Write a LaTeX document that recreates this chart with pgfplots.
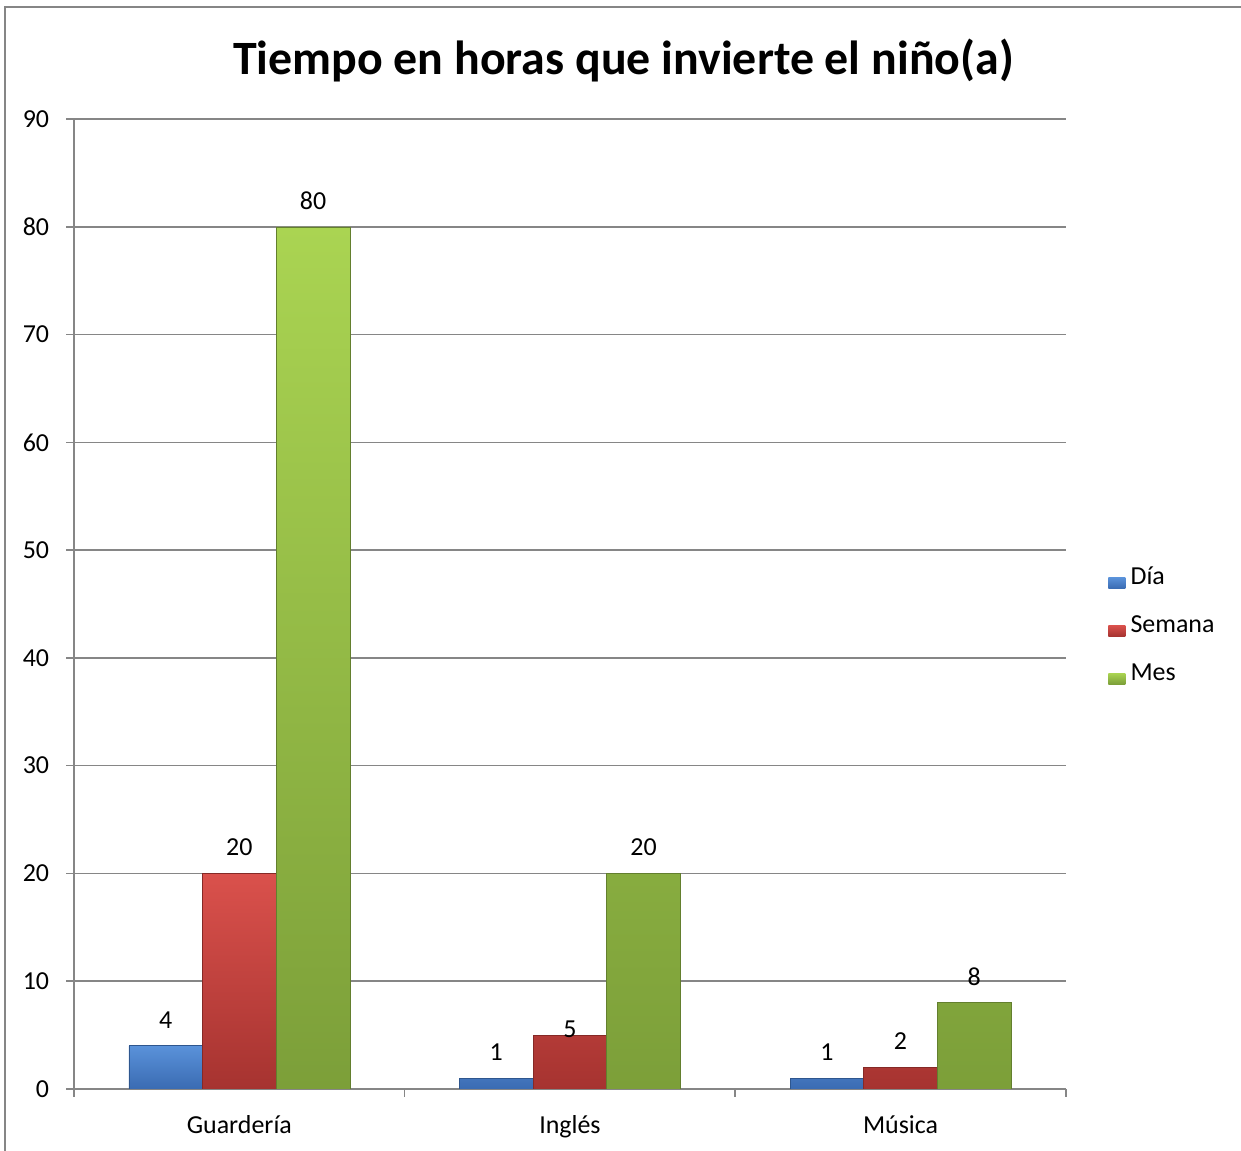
\documentclass[border=0pt]{standalone}
\usepackage{fontspec}
\setmainfont{Carlito}
\usepackage{pgfplots}
\pgfplotsset{compat=1.18}
\definecolor{gridgray}{HTML}{868686}
\definecolor{bluetop}{HTML}{5A92DA}
\definecolor{bluebot}{HTML}{3A6BB2}
\definecolor{redtop}{HTML}{DA514C}
\definecolor{redbot}{HTML}{A63330}
\definecolor{greentop}{HTML}{AAD452}
\definecolor{greenbot}{HTML}{7C9F39}
\begin{document}
\begin{tikzpicture}
\fill[white] (0,0) rectangle (620bp,575bp);
\fill[gridgray] (2bp,0bp) rectangle (3bp,572bp);
\fill[gridgray] (2bp,571bp) rectangle (620bp,572bp);
\node[font=\fontsize{24}{28}\selectfont\bfseries] at (311.5bp,545bp) {Tiempo en horas que invierte el niño(a)};
\begin{axis}[
  at={(37bp,31bp)}, anchor=south west,
  scale only axis, width=495.5bp, height=484.5bp,
  xmin=-0.5, xmax=2.5, ymin=0, ymax=90,
  ybar=0pt, bar width=36.8bp,
  axis x line=bottom, axis y line=left,
  axis line style={gridgray, line width=0.8pt, -},
  xtick={0,1,2}, xticklabels={Guardería,Inglés,Música},
  major x tick style={draw=none},
  xticklabel style={yshift=-6pt},
  yticklabel style={xshift=-5pt},
  extra x ticks={-0.5,0.5,1.5,2.5}, extra x tick labels={},
  extra x tick style={major tick length=4pt, tick align=outside, xmajorgrids=false, major x tick style={draw=gridgray, line width=0.8pt}},
  ytick={0,10,...,90},
  ymajorgrids, grid style={gridgray, line width=0.8pt},
  major y tick style={gridgray, line width=0.8pt},
  major tick length=4pt, tick align=outside,
  tick label style={font=\fontsize{13}{15.6}\selectfont, text=black},
  /pgf/number format/assume math mode=true,
  nodes near coords,
  every node near coord/.append style={font=\fontsize{13}{15.6}\selectfont, text=black, anchor=south, inner sep=0pt, yshift=8.6pt},
  legend style={at={(1.0424,0.478)}, anchor=west, draw=none, fill=none, inner sep=0pt,
    font=\fontsize{13}{15.6}\selectfont, row sep=13pt,
    nodes={inner sep=0pt, text height=9pt, text depth=2pt}},
  legend cell align=left,
  legend image code/.code={\draw[#1, draw=none] (0pt,-5.5pt) rectangle (8.5pt,0pt); \path (11pt,0pt);},
]
\addplot[top color=bluetop, bottom color=bluebot, draw=bluebot!80!black, line width=0.3pt] coordinates {(0,4) (1,1) (2,1)};
\addplot[top color=redtop, bottom color=redbot, draw=redbot!80!black, line width=0.3pt,
  visualization depends on={\thisrow{s} \as \myshift},
  every node near coord/.append style={yshift=\myshift pt}] table[x=x, y=y] {
x y s
0 20 0
1 5 -10
2 2 0
};
\addplot[top color=greentop, bottom color=greenbot, draw=greenbot!80!black, line width=0.3pt] coordinates {(0,80) (1,20) (2,8)};
\legend{Día,Semana,Mes}
\end{axis}
\path (0,0) rectangle (620bp,575bp);
\end{tikzpicture}
\end{document}
